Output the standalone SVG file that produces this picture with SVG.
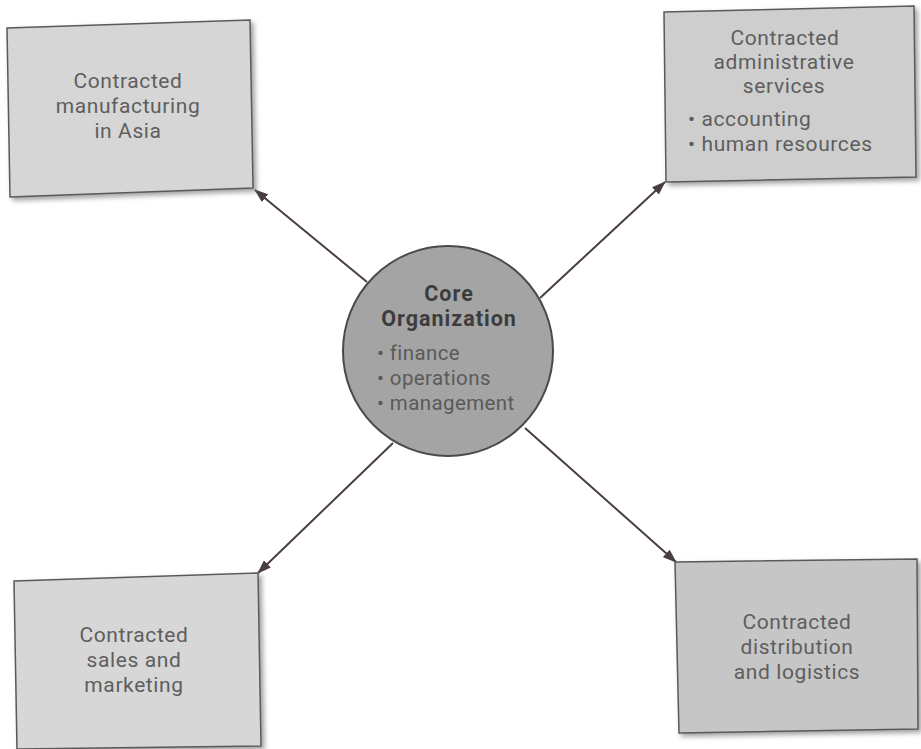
<svg xmlns="http://www.w3.org/2000/svg" width="921" height="749" viewBox="0 0 921 749">
  <defs>
    <style>
      .box { stroke: #5a5a5a; stroke-width: 1.5; }
      .txt { font-family: Roboto, "Open Sans", "DejaVu Sans", sans-serif; font-size: 21px; letter-spacing: 0.6px; fill: #5e5e5e; }
      .ctr { text-anchor: middle; }
      .core { font-family: Roboto, "Open Sans", "DejaVu Sans", sans-serif; font-size: 21.5px; letter-spacing: 1px; font-weight: bold; fill: #3c3c3c; text-anchor: middle; }
      .bul { font-family: Roboto, "Open Sans", "DejaVu Sans", sans-serif; font-size: 20.5px; letter-spacing: 0.4px; fill: #5a5a5a; }
      .conn { stroke: #4a3d44; stroke-width: 2; fill: none; marker-end: url(#arr); }
    </style>
    <marker id="arr" viewBox="0 0 14 10" markerWidth="14" markerHeight="10" refX="13" refY="5" orient="auto" markerUnits="userSpaceOnUse">
      <path d="M0,0 L14,5 L0,10 Z" fill="#4a3d44"/>
    </marker>
    <filter id="sh" x="-10%" y="-10%" width="125%" height="125%">
      <feDropShadow dx="3" dy="3" stdDeviation="2.5" flood-color="#7a7a7a" flood-opacity="0.7"/>
    </filter>
  </defs>
  <rect width="921" height="749" fill="#ffffff"/>

  <g id="connectors">
    <line class="conn" x1="367" y1="282" x2="255" y2="190"/>
    <line class="conn" x1="540" y1="298" x2="665" y2="182"/>
    <line class="conn" x1="393" y1="443" x2="258" y2="573"/>
    <line class="conn" x1="525" y1="428" x2="676" y2="562"/>
  </g>

  <g id="core">
    <circle cx="448" cy="351" r="105" fill="#a4a4a4" stroke="#4a4a4a" stroke-width="2"/>
    <text class="core" x="449" y="301">Core</text>
    <text class="core" x="449" y="326">Organization</text>
    <text class="bul" x="377" y="360">• finance</text>
    <text class="bul" x="377" y="385">• operations</text>
    <text class="bul" x="377" y="410">• management</text>
  </g>

  <g id="manufacturing">
    <polygon class="box" points="7,28 250,20 253,188 10,197" fill="#d6d6d6" filter="url(#sh)"/>
    <text class="txt ctr" x="128" y="88">Contracted</text>
    <text class="txt ctr" x="128" y="113">manufacturing</text>
    <text class="txt ctr" x="128" y="138">in Asia</text>
  </g>

  <g id="administrative">
    <polygon class="box" points="664,12 914,6 916,177 666,182" fill="#cecece" filter="url(#sh)"/>
    <text class="txt ctr" x="785" y="45">Contracted</text>
    <text class="txt ctr" x="784" y="69">administrative</text>
    <text class="txt ctr" x="784" y="93">services</text>
    <text class="txt" x="688" y="126">• accounting</text>
    <text class="txt" x="688" y="151">• human resources</text>
  </g>

  <g id="sales">
    <polygon class="box" points="14,581 258,573 261,746 17,749" fill="#d7d7d7" filter="url(#sh)"/>
    <text class="txt ctr" x="134" y="642">Contracted</text>
    <text class="txt ctr" x="134" y="667">sales and</text>
    <text class="txt ctr" x="134" y="692">marketing</text>
  </g>

  <g id="distribution">
    <polygon class="box" points="675,562 917,559 918,729 679,733" fill="#c6c6c6" filter="url(#sh)"/>
    <text class="txt ctr" x="797" y="629">Contracted</text>
    <text class="txt ctr" x="797" y="654">distribution</text>
    <text class="txt ctr" x="797" y="679">and logistics</text>
  </g>
</svg>
